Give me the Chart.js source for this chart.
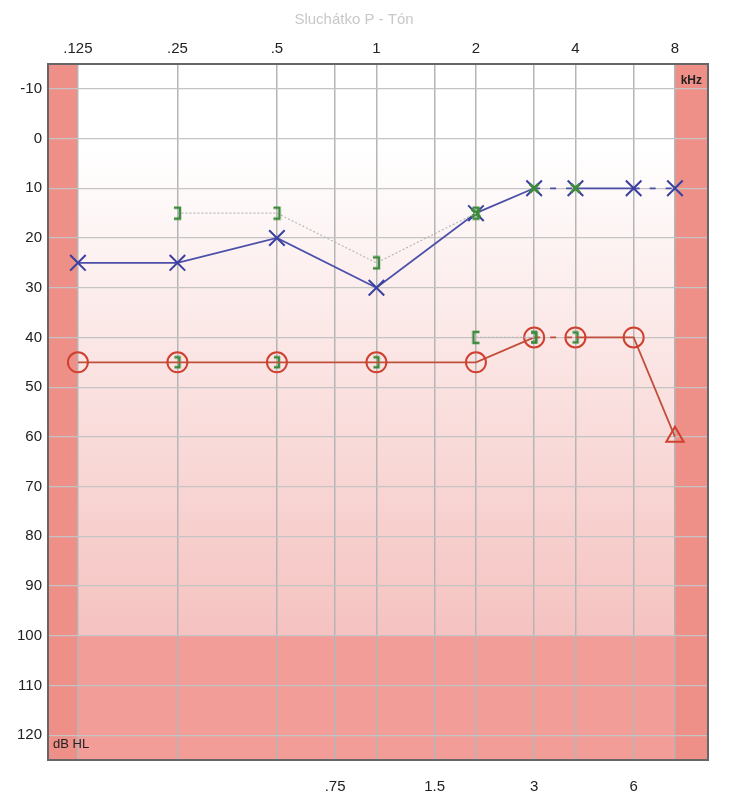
<!DOCTYPE html>
<html lang="cs">
<head>
    <meta charset="UTF-8">
    <title>Audiogram</title>
    <style>
        body { margin: 0; background: #fff; }
        #wrap { width: 733px; height: 800px; }
    </style>
</head>
<body>
<div id="wrap">
    <canvas id="myChart" width="733" height="800"></canvas>
</div>

<script src="https://cdn.jsdelivr.net/npm/chart.js"></script>

<script>
    // frekvence v kHz
    const topFreqs = [0.125, 0.25, 0.5, 1, 2, 4, 8];
    const bottomFreqs = [0.75, 1.5, 3, 6];
    const allFreqs = [0.125, 0.25, 0.5, 0.75, 1, 1.5, 2, 3, 4, 6, 8];
    const dbTicks = [-10, 0, 10, 20, 30, 40, 50, 60, 70, 80, 90, 100, 110, 120];

    // vzdušné vedení
    const xFreqs = [0.125, 0.25, 0.5, 1, 2, 3, 4, 6, 8];
    const xValues = [25, 25, 20, 30, 15, 10, 10, 10, 10];
    const xDashed = [false, false, false, false, false, true, false, true];

    const oFreqs = [0.125, 0.25, 0.5, 1, 2, 3, 4, 6, 8];
    const oValues = [45, 45, 45, 45, 45, 40, 40, 40, 60];
    const oDashed = [false, false, false, false, false, true, false, false];

    // kostní vedení
    const boneRFreqs = [0.25, 0.5, 1, 2];
    const boneRValues = [15, 15, 25, 15];
    const boneLFreqs = [2, 3];
    const boneLValues = [40, 40];
    const maskXFreqs = [2, 3, 4];
    const maskXValues = [15, 10, 10];
    const maskOFreqs = [0.25, 0.5, 1, 3, 4];
    const maskOValues = [45, 45, 45, 40, 40];

    const xMin = 0.1015, xMax = 10.07;
    const yMin = -15, yMax = 125;

    function bracket(open, size) {
        const c = document.createElement('canvas');
        c.width = size; c.height = size + 4;
        const g = c.getContext('2d');
        g.strokeStyle = '#3c8a3c';
        g.lineWidth = 2.5;
        g.beginPath();
        const x0 = open ? size - 2 : 2;
        const x1 = open ? 3 : size - 3;
        g.moveTo(x0, 2);
        g.lineTo(x1, 2);
        g.lineTo(x1, size + 2);
        g.lineTo(x0, size + 2);
        g.stroke();
        return c;
    }
    const closeBr = bracket(false, 11);
    const openBr = bracket(true, 11);
    const innerBr = bracket(false, 10);

    function pts(fs, vs) {
        return fs.map((f, i) => ({x: f, y: vs[i]}));
    }

    const background = {
        id: 'background',
        beforeDraw(chart) {
            const {ctx, chartArea: a, scales: {x, y}} = chart;
            const grad = ctx.createLinearGradient(0, a.top, 0, a.bottom);
            grad.addColorStop(0, '#ffffff');
            grad.addColorStop(0.12, '#ffffff');
            grad.addColorStop(1, '#f2b3b0');
            ctx.save();
            ctx.fillStyle = grad;
            ctx.fillRect(a.left, a.top, a.width, a.height);
            ctx.fillStyle = '#f29d97';
            const y100 = y.getPixelForValue(100);
            ctx.fillRect(a.left, y100, a.width, a.bottom - y100);
            ctx.fillStyle = '#ee8f88';
            const l = x.getPixelForValue(0.125);
            const r = x.getPixelForValue(8);
            ctx.fillRect(a.left, a.top, l - a.left, a.height);
            ctx.fillRect(r, a.top, a.right - r, a.height);
            ctx.restore();
        },
        afterDraw(chart) {
            const {ctx, chartArea: a} = chart;
            ctx.save();
            ctx.strokeStyle = '#666';
            ctx.lineWidth = 2;
            ctx.strokeRect(a.left, a.top, a.width, a.height);
            ctx.fillStyle = '#222';
            ctx.font = 'bold 12px "Liberation Sans Narrow", "Liberation Sans"';
            ctx.textAlign = 'right';
            ctx.fillText('kHz', a.right - 6, a.top + 20);
            ctx.textAlign = 'left';
            ctx.font = '13px "Liberation Sans Narrow", "Liberation Sans"';
            ctx.fillText('dB HL', a.left + 5, a.bottom - 12);
            ctx.restore();
        }
    };

    const tickFont = {family: '"Liberation Sans Narrow", "Liberation Sans"', size: 15};

    new Chart(document.getElementById('myChart'), {
        type: 'line',
        data: {
            datasets: [
                {
                    data: pts(boneRFreqs, boneRValues),
                    borderColor: '#b9b9b9', borderWidth: 1.2, borderDash: [2, 2],
                    pointStyle: closeBr, pointRadius: 6
                },
                {
                    data: pts(boneLFreqs, boneLValues),
                    borderColor: '#b9b9b9', borderWidth: 1.2, borderDash: [2, 2],
                    pointStyle: [openBr, innerBr], pointRadius: 6
                },
                {
                    data: pts(maskXFreqs, maskXValues),
                    showLine: false, pointStyle: 'crossRot', pointRadius: 6,
                    pointBorderColor: '#3c8a3c', pointBorderWidth: 3
                },
                {
                    data: pts(xFreqs, xValues),
                    borderColor: '#4b4fa8', borderWidth: 1.8,
                    pointStyle: 'crossRot', pointRadius: 11,
                    pointBorderColor: '#3a3fa0', pointBorderWidth: 2, pointBackgroundColor: 'transparent',
                    segment: {borderDash: c => xDashed[c.p0DataIndex] ? [6, 10] : undefined}
                },
                {
                    data: pts(oFreqs, oValues),
                    borderColor: '#c0503c', borderWidth: 1.8,
                    pointStyle: oValues.map((v, i) => i === oValues.length - 1 ? 'triangle' : 'circle'),
                    pointRadius: 10, pointBorderColor: '#d0402e', pointBorderWidth: 2,
                    pointBackgroundColor: 'rgba(0,0,0,0)',
                    segment: {borderDash: c => oDashed[c.p0DataIndex] ? [6, 10] : undefined}
                },
                {
                    data: pts(maskOFreqs, maskOValues),
                    showLine: false, pointStyle: innerBr, pointRadius: 5
                }
            ]
        },
        options: {
            responsive: false,
            animation: false,
            layout: {padding: {left: 0, right: 25, top: 3, bottom: 0}},
            plugins: {
                legend: {display: false},
                tooltip: {enabled: false},
                title: {
                    display: true, text: 'Sluchátko P - Tón', color: '#c8c8c8',
                    font: {family: '"Liberation Sans Narrow", "Liberation Sans"', size: 15, weight: 'normal'},
                    padding: {top: 8, bottom: 5}
                }
            },
            scales: {
                x: {
                    type: 'logarithmic', position: 'top', min: xMin, max: xMax,
                    afterBuildTicks: s => { s.ticks = allFreqs.map(v => ({value: v})); },
                    ticks: {
                        color: '#222', font: tickFont, autoSkip: false, maxRotation: 0, padding: 6,
                        callback: v => topFreqs.includes(v) ? String(v).replace(/^0/, '') : ''
                    },
                    grid: {color: '#b5b5b5', lineWidth: 1.5, drawTicks: false},
                    border: {display: false}
                },
                x2: {
                    type: 'logarithmic', position: 'bottom', min: xMin, max: xMax,
                    afterBuildTicks: s => { s.ticks = bottomFreqs.map(v => ({value: v})); },
                    afterFit: s => { s.height = 40; },
                    ticks: {
                        color: '#222', font: tickFont, autoSkip: false, maxRotation: 0, padding: 10,
                        callback: v => String(v).replace(/^0/, '')
                    },
                    grid: {display: false},
                    border: {display: false}
                },
                y: {
                    reverse: true, min: yMin, max: yMax,
                    afterBuildTicks: s => { s.ticks = dbTicks.map(v => ({value: v})); },
                    afterFit: s => { s.width = 48; },
                    ticks: {color: '#222', font: tickFont, padding: 6},
                    grid: {color: '#c4c4c4', lineWidth: 1.2, drawTicks: false},
                    border: {display: false}
                }
            }
        },
        plugins: [background]
    });
</script>

</body>
</html>
